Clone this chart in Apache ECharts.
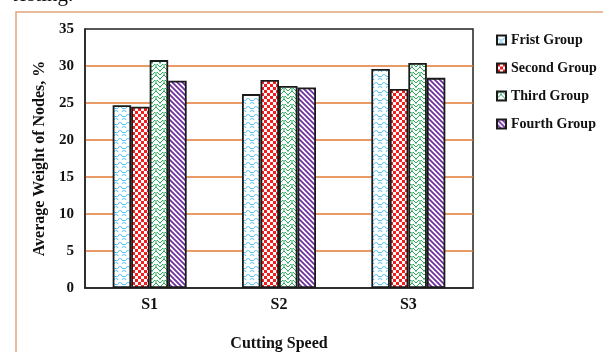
<!DOCTYPE html>
<html>
<head>
<meta charset="utf-8">
<script src="https://cdn.jsdelivr.net/npm/echarts@6/dist/echarts.min.js"></script>
<style>
  html, body { margin: 0; padding: 0; background: #fff; }
  #chart { width: 603px; height: 352px; }
</style>
</head>
<body>
<div id="chart"></div>
<script>
// Cutting speed categories and the average node weight (%) of each group
const categories = ['S1', 'S2', 'S3'];
const groupNames = ['Frist Group', 'Second Group', 'Third Group', 'Fourth Group'];
const firstGroup = [24.7, 26.2, 29.6];
const secondGroup = [24.5, 28.1, 26.9];
const thirdGroup = [30.8, 27.3, 30.4];
const fourthGroup = [28.0, 27.1, 28.4];

const SERIF = '"Liberation Serif", "Times New Roman", serif';

// Small repeating tiles used as bar fills
function tile(w, h, draw) {
  const c = document.createElement('canvas');
  c.width = w; c.height = h;
  const ctx = c.getContext('2d');
  ctx.fillStyle = '#fff';
  ctx.fillRect(0, 0, w, h);
  draw(ctx);
  return { image: c, repeat: 'repeat' };
}

// light blue scales
const scalePattern = tile(8, 8, ctx => {
  ctx.strokeStyle = '#3ab6ec';
  ctx.lineWidth = 1;
  const arcs = [[4, 1], [0, 5], [8, 5]];
  arcs.forEach(([cx, cy]) => {
    ctx.beginPath();
    ctx.arc(cx, cy, 3.6, 0.1 * Math.PI, 0.9 * Math.PI);
    ctx.stroke();
  });
});

// red checkerboard
const checkerPattern = tile(6, 6, ctx => {
  ctx.fillStyle = '#f21d1d';
  ctx.fillRect(0, 0, 3, 3);
  ctx.fillRect(3, 3, 3, 3);
});

// green zig-zag bricks
const zigzagPattern = tile(8, 8, ctx => {
  ctx.strokeStyle = '#2aa85c';
  ctx.lineWidth = 1;
  ctx.beginPath();
  ctx.moveTo(0, 7); ctx.lineTo(4, 3); ctx.lineTo(8, 7);
  ctx.moveTo(0, 3); ctx.lineTo(3, 0);
  ctx.moveTo(5, 0); ctx.lineTo(8, 3);
  ctx.moveTo(4, 3); ctx.lineTo(4, 0);
  ctx.moveTo(0, 7); ctx.lineTo(0, 8);
  ctx.moveTo(8, 7); ctx.lineTo(8, 8);
  ctx.stroke();
});

// purple diagonal stripes
const stripePattern = tile(5, 5, ctx => {
  ctx.strokeStyle = '#7030a0';
  ctx.lineWidth = 1.8;
  ctx.beginPath();
  for (let k = -5; k <= 10; k += 5) {
    ctx.moveTo(k - 1, -1);
    ctx.lineTo(k + 6, 6);
  }
  ctx.stroke();
});

const fills = [scalePattern, checkerPattern, zigzagPattern, stripePattern];
const values = [firstGroup, secondGroup, thirdGroup, fourthGroup];

const chart = echarts.init(document.getElementById('chart'), null, { renderer: 'canvas' });

chart.setOption({
  backgroundColor: '#fff',
  animation: false,
  grid: {
    left: 85, right: 130, top: 29, bottom: 64,
    containLabel: false,
    outerBoundsMode: 'none',
    show: true,
    borderColor: '#222',
    borderWidth: 1.5,
    backgroundColor: 'transparent'
  },
  legend: {
    orient: 'vertical',
    left: 491,
    top: 28,
    itemWidth: 9,
    itemHeight: 9,
    itemGap: 14,
    icon: 'rect',
    data: groupNames,
    textStyle: {
      fontFamily: SERIF,
      fontWeight: 'bold',
      fontSize: 14,
      lineHeight: 14,
      color: '#111'
    }
  },
  xAxis: {
    type: 'category',
    data: categories,
    name: 'Cutting Speed',
    nameLocation: 'middle',
    nameGap: 48,
    nameTextStyle: { fontFamily: SERIF, fontWeight: 'bold', fontSize: 16, color: '#111' },
    axisLine: { show: true, lineStyle: { color: '#222', width: 1.5 } },
    axisTick: { show: false },
    axisLabel: { fontFamily: SERIF, fontWeight: 'bold', fontSize: 16, color: '#111', margin: 9 },
    splitLine: { show: false }
  },
  yAxis: {
    type: 'value',
    min: 0,
    max: 35,
    interval: 5,
    name: 'Average Weight of Nodes, %',
    nameLocation: 'middle',
    nameGap: 30,
    nameRotate: 90,
    nameTextStyle: { fontFamily: SERIF, fontWeight: 'bold', fontSize: 16, color: '#111' },
    axisLine: { show: true, lineStyle: { color: '#222', width: 1.5 } },
    axisTick: { show: false },
    axisLabel: { fontFamily: SERIF, fontWeight: 'bold', fontSize: 15, color: '#111', margin: 11 },
    splitLine: {
      show: true,
      showMinLine: false,
      showMaxLine: false,
      lineStyle: { color: '#e07a35', width: 1.5 }
    }
  },
  series: groupNames.map((name, i) => ({
    name: name,
    type: 'bar',
    data: values[i],
    barWidth: 18.5,
    barGap: '0%',
    itemStyle: {
      color: fills[i],
      borderColor: '#1a1a1a',
      borderWidth: 1.8
    }
  })),
  graphic: [
    {
      type: 'polyline',
      shape: { points: [[16, 360], [16, 12], [610, 12]] },
      style: { stroke: '#e2a57d', lineWidth: 1.5, fill: null },
      silent: true
    },
    {
      type: 'text',
      left: 12,
      top: -15,
      style: {
        text: 'testing.',
        fontFamily: SERIF,
        fontSize: 21,
        fill: '#111'
      },
      silent: true
    }
  ]
});
</script>
</body>
</html>
